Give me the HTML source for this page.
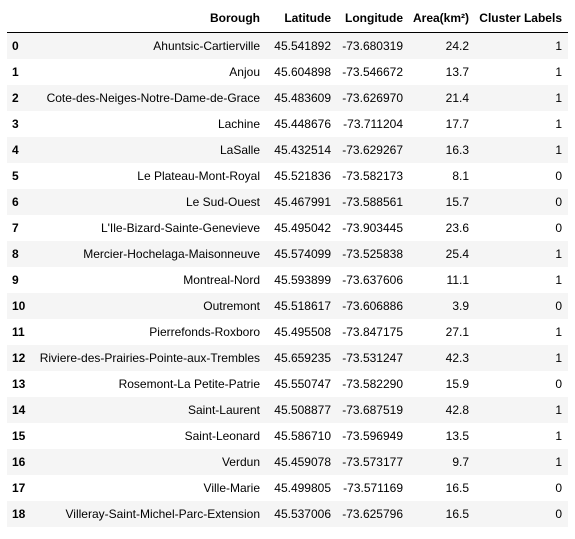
<!DOCTYPE html>
<html><head><meta charset="utf-8"><style>
body{margin:0;background:#fff;width:575px;height:539px;overflow:hidden;font-family:"Liberation Sans",Arial,sans-serif;font-size:12px;color:#000}
#t{position:absolute;left:7px;top:0;width:561px}
.row{position:absolute;left:0;width:561px;height:26px;line-height:26px}
.row.odd{background:#f5f5f5}
.c{position:absolute;top:0;white-space:nowrap;text-align:right}
.idx{left:5px;font-weight:bold;text-align:left}
.hdr{font-weight:bold}
#line{position:absolute;left:7px;top:32px;width:561px;height:1px;background:#000}
</style></head><body>
<div id="t"></div>
<div id="line"></div>
<script>
const headers=["Borough","Latitude","Longitude","Area(km²)","Cluster Labels"];
const boroughs=["Ahuntsic-Cartierville","Anjou","Cote-des-Neiges-Notre-Dame-de-Grace","Lachine","LaSalle","Le Plateau-Mont-Royal","Le Sud-Ouest","L'Ile-Bizard-Sainte-Genevieve","Mercier-Hochelaga-Maisonneuve","Montreal-Nord","Outremont","Pierrefonds-Roxboro","Riviere-des-Prairies-Pointe-aux-Trembles","Rosemont-La Petite-Patrie","Saint-Laurent","Saint-Leonard","Verdun","Ville-Marie","Villeray-Saint-Michel-Parc-Extension"];
const lats=["45.541892","45.604898","45.483609","45.448676","45.432514","45.521836","45.467991","45.495042","45.574099","45.593899","45.518617","45.495508","45.659235","45.550747","45.508877","45.586710","45.459078","45.499805","45.537006"];
const lons=["-73.680319","-73.546672","-73.626970","-73.711204","-73.629267","-73.582173","-73.588561","-73.903445","-73.525838","-73.637606","-73.606886","-73.847175","-73.531247","-73.582290","-73.687519","-73.596949","-73.573177","-73.571169","-73.625796"];
const areas=["24.2","13.7","21.4","17.7","16.3","8.1","15.7","23.6","25.4","11.1","3.9","27.1","42.3","15.9","42.8","13.5","9.7","16.5","16.5"];
const clusters=["1","1","1","1","1","0","0","0","1","1","0","1","1","0","1","1","1","0","0"];
const rights=[253,324,396,462,555];
const t=document.getElementById('t');
function cell(row,txt,right,cls){
  const d=document.createElement('div');
  d.className='c '+(cls||'');
  d.style.right=(561-right)+'px';
  d.textContent=txt;
  row.appendChild(d);return d;
}
const h=document.createElement('div');
h.className='row hdr';h.style.top='5px';


headers.forEach((x,i)=>{const c=cell(h,x,rights[i]);

});
t.appendChild(h);
boroughs.forEach((b,i)=>{
  const r=document.createElement('div');
  r.className='row'+(i%2===0?' odd':'');
  r.style.top=(33+i*26)+'px';
  
  
  const ix=document.createElement('div');
  ix.className='c idx';ix.textContent=i;
  
  
  r.appendChild(ix);
  [b,lats[i],lons[i],areas[i],clusters[i]].forEach((v,j)=>{const c=cell(r,v,rights[j]);
  
  });
  t.appendChild(r);
});
</script>
</body></html>
